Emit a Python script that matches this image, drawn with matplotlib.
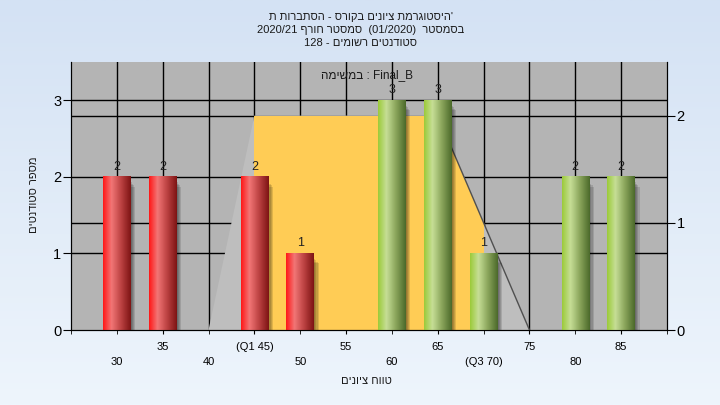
import re
import numpy as np
import matplotlib
matplotlib.use('Agg')
import matplotlib.pyplot as plt
from matplotlib.patches import Polygon, Rectangle
from matplotlib.colors import LinearSegmentedColormap
from matplotlib.transforms import blended_transform_factory

plt.rcParams['font.family'] = ['Liberation Sans Narrow', 'Liberation Sans', 'DejaVu Sans']

# data
bins = [30, 35, 45, 50, 60, 65, 70, 80, 85]
counts = [2, 2, 2, 1, 3, 3, 1, 2, 2]
upper_ticks = [35, 45, 55, 65, 75, 85]
upper_labels = ['35', '(Q1 45)', '55', '65', '75', '85']
lower_ticks = [30, 40, 50, 60, 70, 80]
lower_labels = ['30', '40', '50', '60', '(Q3 70)', '80']
box_x = [40, 45, 65, 75]      # outline on the right-hand axis
box_y = [0, 2, 2, 0]
q1, q3 = 45, 70
pass_grade = 55
bar_w = 3


def rtl(s):
    # matplotlib draws glyphs left to right, so put the hebrew in visual order
    mirror = {'(': ')', ')': '('}
    r = ''.join(mirror.get(c, c) for c in s[::-1])
    return re.sub(r'[0-9A-Za-z_/.]+', lambda m: m.group(0)[::-1], r)


fig = plt.figure(figsize=(7.2, 4.05), dpi=100)

# background gradient
bg = fig.add_axes([0, 0, 1, 1], zorder=-10)
bg_cmap = LinearSegmentedColormap.from_list('bg', ['#EEF5FC', '#D4E2F4'])
bg.imshow(np.linspace(0, 1, 256).reshape(-1, 1), cmap=bg_cmap, aspect='auto',
          extent=[0, 1, 0, 1], origin='lower')
bg.axis('off')

ax = fig.add_axes([71 / 720, 75 / 405, 596 / 720, 268 / 405])
ax.set_facecolor('#B4B4B4')
ax2 = ax.twinx()
xmin, xmax = 25, 90
ax.set_xlim(xmin, xmax)
ax.set_ylim(0, 3.5)
ax2.set_ylim(0, 2.5)

# grid (behind the quartile shape)
for x in upper_ticks + lower_ticks:
    ax.axvline(x, color='black', lw=1, zorder=1)
for y in [1, 2, 3]:
    ax.axhline(y, color='black', lw=1, zorder=1)
rtrans = blended_transform_factory(ax.transAxes, ax2.transData)
for y in [1, 2]:
    ax.plot([0, 1], [y, y], color='black', lw=1, zorder=1, transform=rtrans)

# quartile shape
trap = Polygon(list(zip(box_x, box_y)), closed=True, transform=ax2.transData,
               facecolor='#BEBEBE', edgecolor='none', zorder=2)
ax.add_patch(trap)
box = Rectangle((q1, 0), q3 - q1, max(box_y), transform=ax2.transData,
                facecolor='#FFCC55', edgecolor='none', zorder=2.2)
ax.add_patch(box)
box.set_clip_path(trap)
ax.plot(box_x[2:], box_y[2:], color='#505050', lw=1, zorder=2.5,
        transform=ax2.transData)

red = LinearSegmentedColormap.from_list('red', [(0, '#FF1818'), (0.3, '#F27676'),
                                                (0.65, '#BC4242'), (1, '#7E1414')])
green = LinearSegmentedColormap.from_list('green', [(0, '#9CCB3A'), (0.3, '#C6DE96'),
                                                    (0.65, '#89A45A'), (1, '#4C6A2B')])
grad = np.linspace(0, 1, 64).reshape(1, -1)

for b, c in zip(bins, counts):
    cmap = red if b < pass_grade else green
    for k in range(1, 5):
        ax.add_patch(Rectangle((b - bar_w / 2 + 0.13 * k, 0), bar_w, c - 0.02 * k - 0.05,
                               facecolor='black', edgecolor='none', alpha=0.12, zorder=3.8))
    ax.imshow(grad, cmap=cmap, aspect='auto', zorder=4,
              extent=[b - bar_w / 2, b + bar_w / 2, 0, c])
    ax.annotate(str(c), (b, c), xytext=(0, 3), textcoords='offset points',
                ha='center', va='bottom', fontsize=9, color='#222222', zorder=6)

ax.set_xlim(xmin, xmax)
ax.set_ylim(0, 3.5)

# ticks
ax.set_xticks(upper_ticks, upper_labels)
ax.set_xticks([xmin] + lower_ticks + [xmax], [''] + lower_labels + [''], minor=True)
ax.tick_params(axis='x', which='both', length=3, labelsize=8, color='black')
ax.tick_params(axis='x', which='major', pad=5.5)
ax.tick_params(axis='x', which='minor', pad=16.5)
ax.set_yticks([0, 1, 2, 3])
ax.tick_params(axis='y', length=5.5, pad=1.5, labelsize=10.5)
ax2.set_yticks([0, 1, 2])
ax2.tick_params(axis='y', length=6, pad=1, labelsize=10.5)
for a in (ax, ax2):
    a.spines['top'].set_visible(False)
    for s in a.spines.values():
        s.set_color('black')

ax.text(0.497, 0.951, rtl('במשימה') + ' : Final_B', transform=ax.transAxes,
        ha='center', va='center', fontsize=8.5, color='#1a1a1a', zorder=6)

# titles and axis labels
tx = 361 / 720
fig.text(tx, 1 - 17 / 405, rtl('היסטוגרמת ציונים בקורס - הסתברות ת') + "'",
         ha='center', va='center', fontsize=8, color='#1a1a1a')
fig.text(tx, 1 - 30 / 405, rtl('בסמסטר  (01/2020)  סמסטר חורף 2020/21'),
         ha='center', va='center', fontsize=8, color='#1a1a1a')
fig.text(tx, 1 - 43 / 405, rtl('סטודנטים רשומים - 128'),
         ha='center', va='center', fontsize=8, color='#1a1a1a')
fig.text(34 / 720, 1 - 195 / 405, rtl('מספר סטודנטים'), rotation=90,
         ha='center', va='center', fontsize=8, color='#1a1a1a')
fig.text(366 / 720, 1 - 381 / 405, rtl('טווח ציונים'),
         ha='center', va='center', fontsize=8, color='#1a1a1a')

fig.savefig('out.png', dpi=100)
